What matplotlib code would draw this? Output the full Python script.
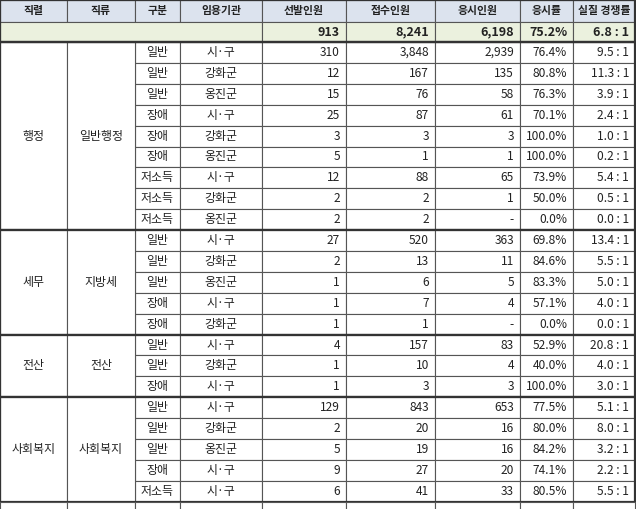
import matplotlib.pyplot as plt
from matplotlib.patches import Rectangle

plt.rcParams['font.family'] = ['Noto Sans CJK KR', 'DejaVu Sans']

headers = ['직렬', '직류', '구분', '임용기관', '선발인원', '접수인원', '응시인원', '응시률', '실질 경쟁률']
total = ['913', '8,241', '6,198', '75.2%', '6.8 : 1']

groups = [('행정', '일반행정', 9), ('세무', '지방세', 5), ('전산', '전산', 3), ('사회복지', '사회복지', 5)]
kinds = ['일반', '일반', '일반', '장애', '장애', '장애', '저소득', '저소득', '저소득',
         '일반', '일반', '일반', '장애', '장애',
         '일반', '일반', '장애',
         '일반', '일반', '일반', '장애', '저소득']
agencies = ['시·구', '강화군', '옹진군', '시·구', '강화군', '옹진군', '시·구', '강화군', '옹진군',
            '시·구', '강화군', '옹진군', '시·구', '강화군',
            '시·구', '강화군', '시·구',
            '시·구', '강화군', '옹진군', '시·구', '시·구']
selected = ['310', '12', '15', '25', '3', '5', '12', '2', '2',
            '27', '2', '1', '1', '1',
            '4', '1', '1',
            '129', '2', '5', '9', '6']
applied = ['3,848', '167', '76', '87', '3', '1', '88', '2', '2',
           '520', '13', '6', '7', '1',
           '157', '10', '3',
           '843', '20', '19', '27', '41']
tested = ['2,939', '135', '58', '61', '3', '1', '65', '1', '-',
          '363', '11', '5', '4', '-',
          '83', '4', '3',
          '653', '16', '16', '20', '33']
rate = ['76.4%', '80.8%', '76.3%', '70.1%', '100.0%', '100.0%', '73.9%', '50.0%', '0.0%',
        '69.8%', '84.6%', '83.3%', '57.1%', '0.0%',
        '52.9%', '40.0%', '100.0%',
        '77.5%', '80.0%', '84.2%', '74.1%', '80.5%']
comp = ['9.5 : 1', '11.3 : 1', '3.9 : 1', '2.4 : 1', '1.0 : 1', '0.2 : 1', '5.4 : 1', '0.5 : 1', '0.0 : 1',
        '13.4 : 1', '5.5 : 1', '5.0 : 1', '4.0 : 1', '0.0 : 1',
        '20.8 : 1', '4.0 : 1', '3.0 : 1',
        '5.1 : 1', '8.0 : 1', '3.2 : 1', '2.2 : 1', '5.5 : 1']

W, H = 636, 509
xs = [0, 67, 135, 180, 262, 346, 435, 520, 573, 635]
hdr_h, tot_h, row_h = 22, 20, 20.9

fig = plt.figure(figsize=(W / 100, H / 100), dpi=100)
ax = fig.add_axes([0, 0, 1, 1])
ax.set_xlim(0, W)
ax.set_ylim(H, 0)
ax.axis('off')

def cell(x0, x1, y0, y1, text='', fc='white', ha='center', bold=False, lw=0.8, size=8.6):
    ax.add_patch(Rectangle((x0, y0), x1 - x0, y1 - y0, fc=fc, ec='#555555', lw=lw))
    if text:
        tx = x1 - 6 if ha == 'right' else (x0 + x1) / 2
        ax.text(tx, (y0 + y1) / 2, text, ha=ha, va='center', fontsize=size,
                fontweight='bold' if bold else 'normal', color='#222222')

# header
for i, h in enumerate(headers):
    cell(xs[i], xs[i + 1], 0, hdr_h, h, fc='#dce3ee', bold=True, size=7.8)
# total row
y0 = hdr_h
cell(xs[0], xs[4], y0, y0 + tot_h, fc='#ebf1de')
for i, t in enumerate(total):
    cell(xs[4 + i], xs[5 + i], y0, y0 + tot_h, t, fc='#ebf1de', ha='right', bold=True, size=9)

y = hdr_h + tot_h
r = 0
for g, sub, n in groups:
    gy0 = y
    for k in range(n):
        for c, v in enumerate([kinds[r], agencies[r]]):
            cell(xs[2 + c], xs[3 + c], y, y + row_h, v)
        for c, v in enumerate([selected[r], applied[r], tested[r], rate[r], comp[r]]):
            cell(xs[4 + c], xs[5 + c], y, y + row_h, v, ha='right')
        y += row_h
        r += 1
    cell(xs[0], xs[1], gy0, y, g)
    cell(xs[1], xs[2], gy0, y, sub)
    ax.add_patch(Rectangle((0, gy0), xs[-1], y - gy0, fc='none', ec='#333333', lw=1.6))
# partial next row
for i in range(len(xs) - 1):
    cell(xs[i], xs[i + 1], y, y + row_h)

ax.add_patch(Rectangle((0, 0), xs[-1], hdr_h + tot_h, fc='none', ec='#333333', lw=1.6))
fig.savefig('out.png', dpi=100)
